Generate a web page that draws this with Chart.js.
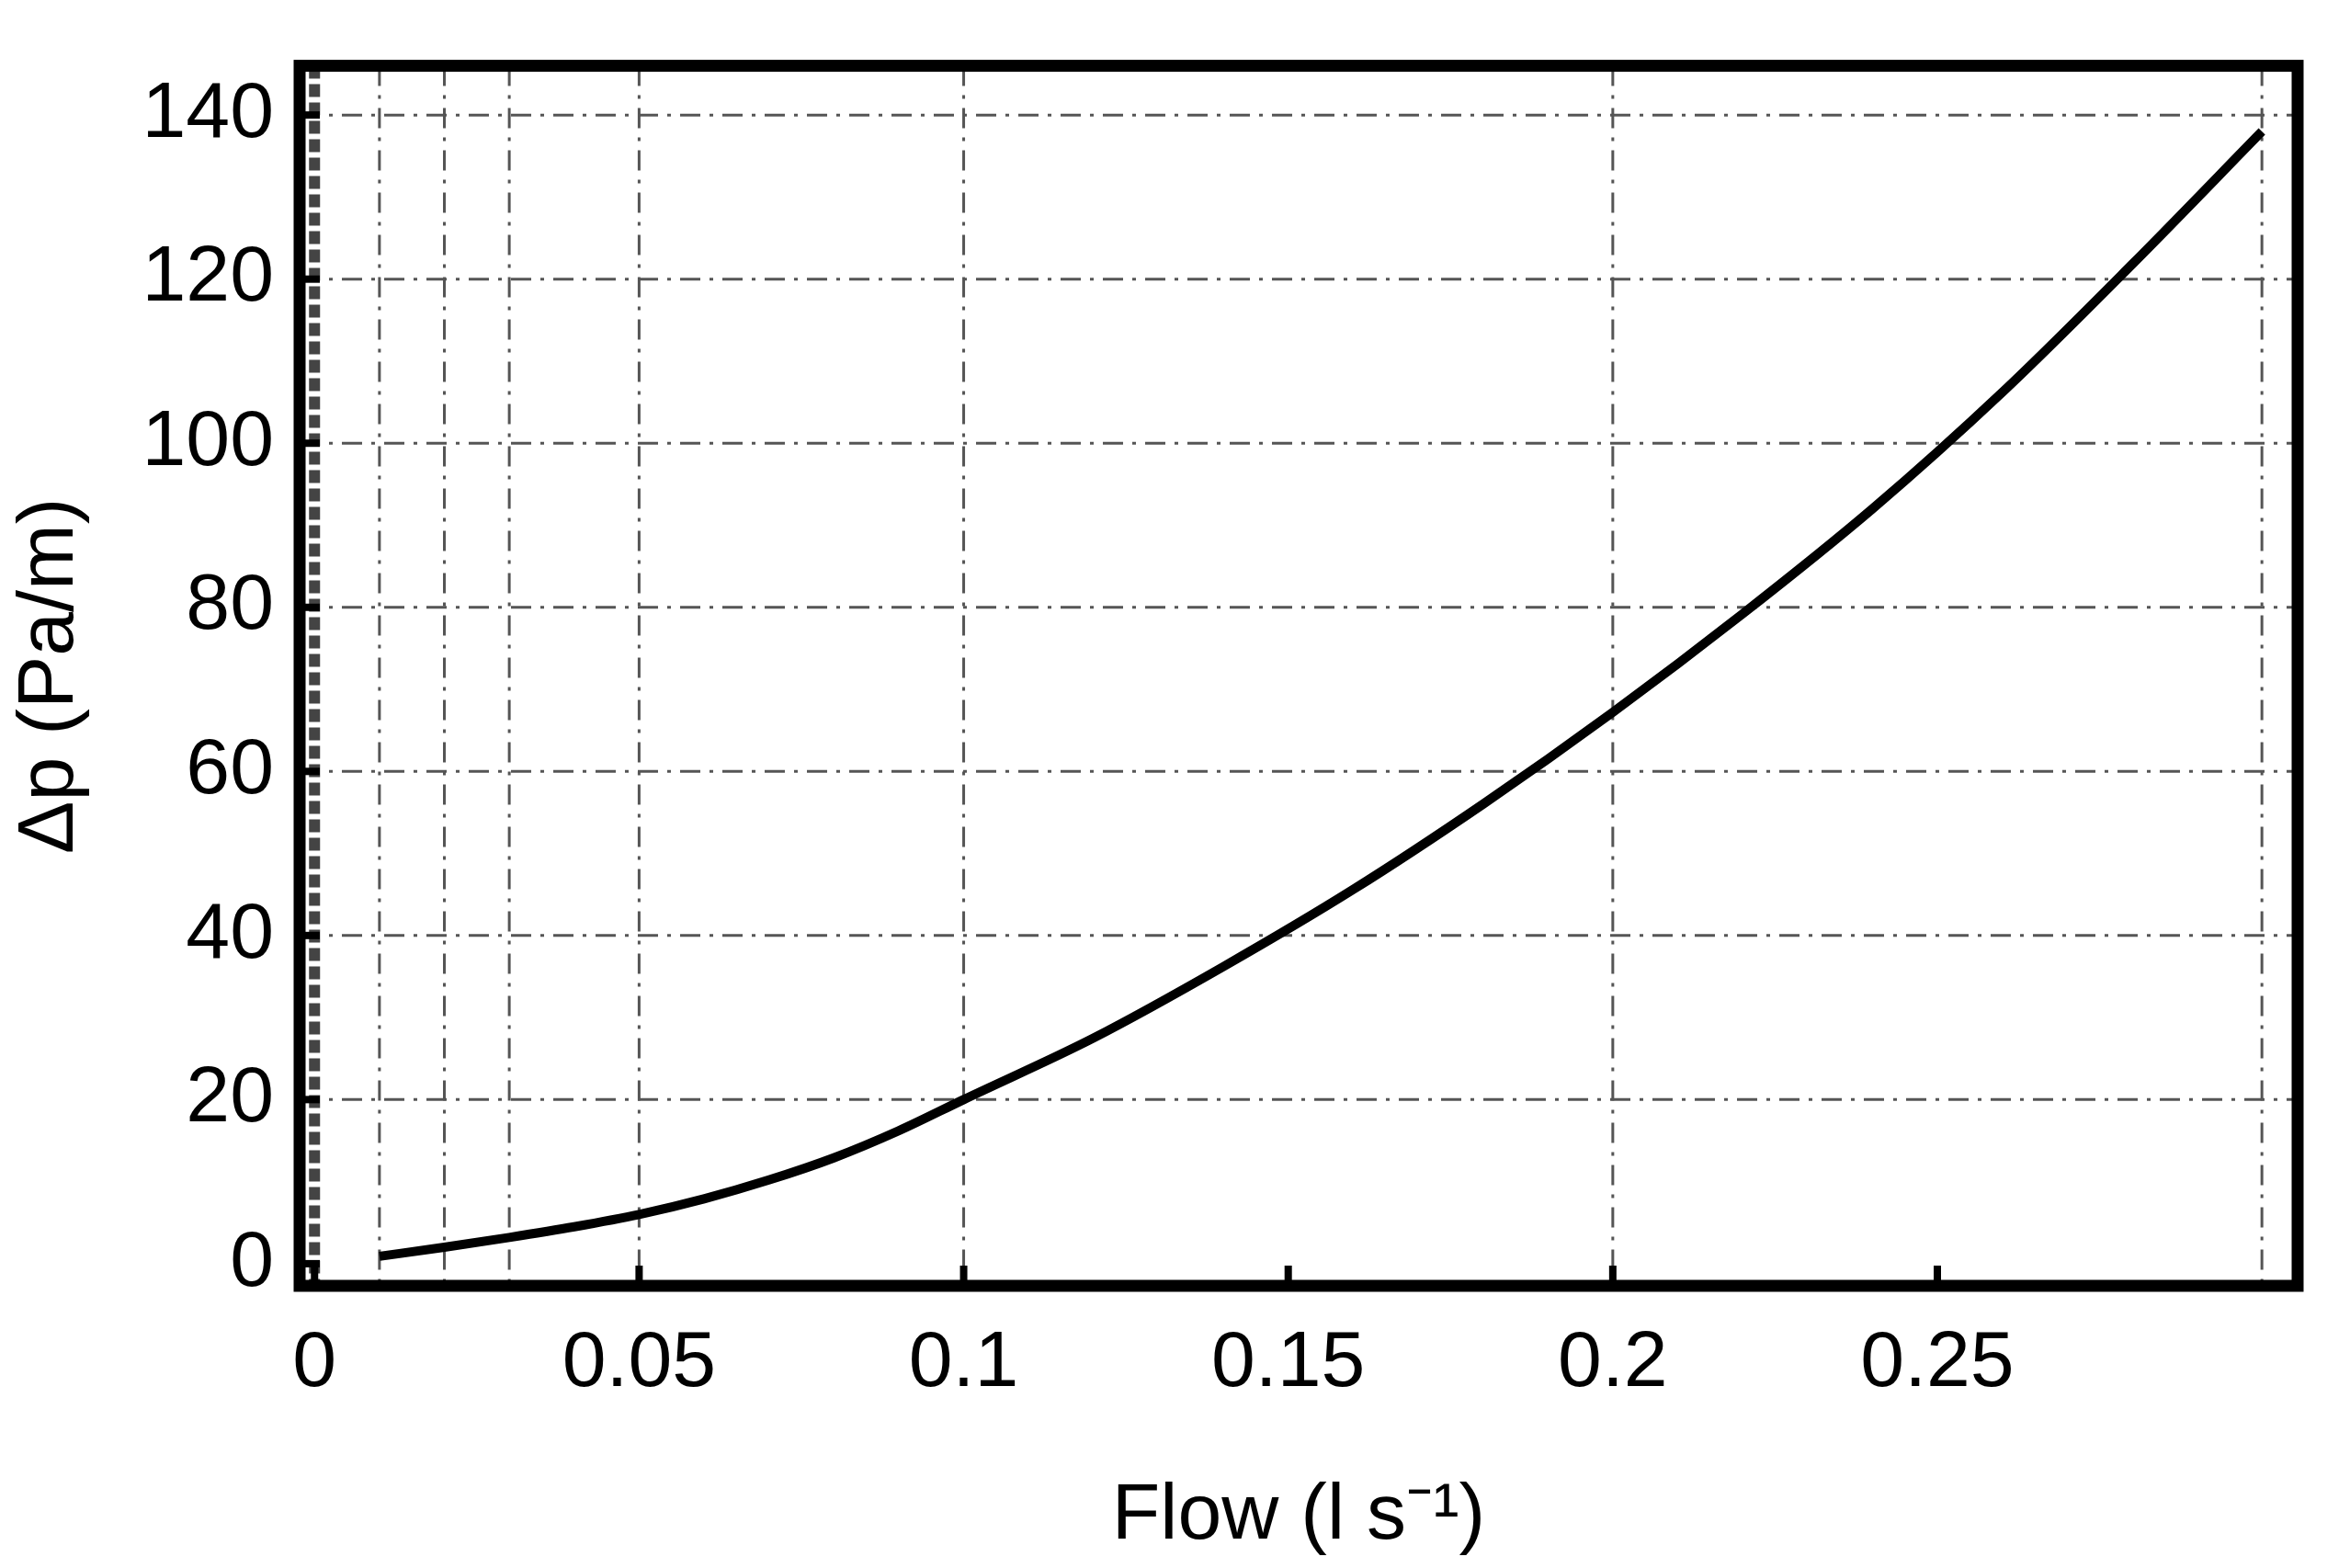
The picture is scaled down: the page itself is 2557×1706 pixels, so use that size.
<!DOCTYPE html>
<html>
<head>
<meta charset="utf-8">
<script src="https://cdn.jsdelivr.net/npm/chart.js@4"></script>
<style>
  html, body { margin: 0; padding: 0; background: #fff; }
  #wrap { width: 2557px; height: 1706px; }
</style>
</head>
<body>
<div id="wrap"><canvas id="flowChart"></canvas></div>
<script>
// values
const flow = [0.01, 0.02, 0.03, 0.04, 0.05, 0.06, 0.07, 0.08, 0.09, 0.1, 0.12, 0.14, 0.16, 0.18, 0.2, 0.22, 0.24, 0.26, 0.28, 0.3];
const pressureDrop = [0.9, 2.0, 3.2, 4.5, 6.0, 7.9, 10.2, 12.9, 16.2, 20.0, 27.5, 36.2, 45.6, 56.0, 67.2, 79.2, 92.0, 106.2, 121.8, 138.0];
const xTicks = [0, 0.05, 0.1, 0.15, 0.2, 0.25];
const yTicks = [0, 20, 40, 60, 80, 100, 120, 140];
const xGrid = [0.01, 0.02, 0.03, 0.05, 0.1, 0.2, 0.3];
const yGrid = [20, 40, 60, 80, 100, 120, 140];

const font = 'Liberation Sans, Arial, sans-serif';

const gridPlugin = {
  id: 'gridAndFrame',
  beforeDatasetsDraw(chart) {
    const { ctx, chartArea: a, scales: { x, y } } = chart;
    ctx.save();
    ctx.strokeStyle = '#555';
    ctx.lineWidth = 3;
    ctx.setLineDash([22, 10, 4, 10]);
    xGrid.forEach(v => {
      const px = x.getPixelForValue(v);
      ctx.beginPath(); ctx.moveTo(px, a.top); ctx.lineTo(px, a.bottom); ctx.stroke();
    });
    yGrid.forEach(v => {
      const py = y.getPixelForValue(v);
      ctx.beginPath(); ctx.moveTo(a.left, py); ctx.lineTo(a.right, py); ctx.stroke();
    });
    // odd thick dashed line at x = 0
    ctx.strokeStyle = '#444';
    ctx.lineWidth = 12;
    ctx.setLineDash([14, 6]);
    const x0 = x.getPixelForValue(0);
    ctx.beginPath(); ctx.moveTo(x0, a.top); ctx.lineTo(x0, a.bottom); ctx.stroke();
    ctx.restore();
  },
  afterDraw(chart) {
    const { ctx, chartArea: a, scales: { x, y } } = chart;
    ctx.save();
    ctx.strokeStyle = '#000';
    ctx.lineWidth = 8;
    xTicks.forEach(v => {
      const px = x.getPixelForValue(v);
      ctx.beginPath(); ctx.moveTo(px, a.bottom); ctx.lineTo(px, a.bottom - 22); ctx.stroke();
    });
    yTicks.forEach(v => {
      const py = y.getPixelForValue(v);
      ctx.beginPath(); ctx.moveTo(a.left, py); ctx.lineTo(a.left + 22, py); ctx.stroke();
    });
    ctx.lineWidth = 13;
    ctx.strokeRect(a.left, a.top, a.right - a.left, a.bottom - a.top);
    ctx.restore();
  }
};

new Chart(document.getElementById('flowChart'), {
  type: 'scatter',
  data: {
    datasets: [{
      data: flow.map((f, i) => ({ x: f, y: pressureDrop[i] })),
      showLine: true,
      borderColor: '#000',
      borderWidth: 10,
      pointRadius: 0,
      cubicInterpolationMode: 'monotone'
    }]
  },
  options: {
    responsive: true,
    maintainAspectRatio: false,
    animation: false,
    layout: { padding: { top: 23, right: 57, left: 0, bottom: 0 } },
    plugins: { legend: { display: false }, tooltip: { enabled: false } },
    scales: {
      x: {
        type: 'linear',
        min: -0.0023,
        max: 0.3055,
        afterBuildTicks(s) { s.ticks = xTicks.map(v => ({ value: v })); },
        afterFit(s) { s.height = 307; },
        grid: { display: false },
        border: { display: false },
        ticks: { color: '#000', font: { family: font, size: 86 }, padding: 26, maxRotation: 0,
          callback(v) { return String(v); } },
        title: { display: true, text: 'Flow (l s⁻¹)', color: '#000', font: { family: font, size: 86 }, padding: { top: 20 } }
      },
      y: {
        min: -2.7,
        max: 146,
        afterBuildTicks(s) { s.ticks = yTicks.map(v => ({ value: v })); },
        afterFit(s) { s.width = 326; },
        grid: { display: false },
        border: { display: false },
        ticks: { color: '#000', font: { family: font, size: 86 }, padding: 20 },
        title: { display: true, text: 'Δp (Pa/m)', color: '#000', font: { family: font, size: 86 }, padding: { bottom: 10 } }
      }
    }
  },
  plugins: [gridPlugin]
});
</script>
</body>
</html>
